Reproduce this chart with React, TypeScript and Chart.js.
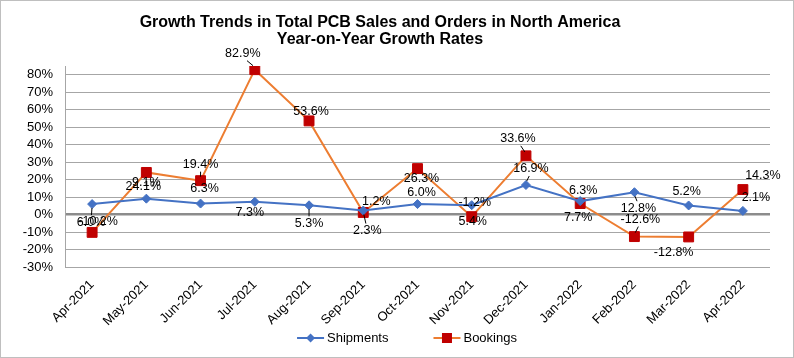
import React, { useEffect, useRef } from 'react';
import { Chart, registerables } from 'chart.js';

Chart.register(...registerables);

const categories = ['Apr-2021', 'May-2021', 'Jun-2021', 'Jul-2021', 'Aug-2021', 'Sep-2021', 'Oct-2021', 'Nov-2021', 'Dec-2021', 'Jan-2022', 'Feb-2022', 'Mar-2022', 'Apr-2022'];
const shipments = [6.0, 9.1, 6.3, 7.3, 5.3, 2.3, 6.0, 5.4, 16.9, 7.7, 12.8, 5.2, 2.1];
const bookings = [-10.2, 24.1, 19.4, 82.9, 53.6, 1.2, 26.3, -1.2, 33.6, 6.3, -12.6, -12.8, 14.3];
const yMin = -30;
const yMax = 80;
const yStep = 10;

const titleLines = ['Growth Trends in Total PCB Sales and Orders in North America', 'Year-on-Year Growth Rates'];

// label placement (pixel offsets of label centre from the point) — styling only
const shipLabelOffsets: [number, number][] = [[-1, 18], [0, -16], [4, -15], [-5, 11], [0, 18], [4, 20], [4, -12], [1, 16], [5, -16], [-2, 16], [4, 16], [-2, -14], [13, -13]];
const bookLabelOffsets: [number, number][] = [[6, -11], [-3, 14], [0, -16], [-12, -16], [2, -9], [13, -11], [4, 10], [3, -14], [-8, -17], [3, -13], [6, -17], [-15, 16], [20, -14]];
const shipLeaders = [true, false, false, false, true, true, false, false, true, false, true, false, false];
const bookLeaders = [false, false, true, true, false, false, false, false, true, false, true, false, false];

const BLUE = '#4472C4';
const ORANGE = '#ED7D31';
const RED = '#C00000';
const FONT = 'Arial, "Liberation Sans", sans-serif';

const fmt = (v: number) => v.toFixed(1) + '%';

const decorPlugin = {
  id: 'decor',
  afterDatasetsDraw(chart: any) {
    const ctx = chart.ctx as CanvasRenderingContext2D;
    ctx.save();
    ctx.font = `12.5px ${FONT}`;
    ctx.fillStyle = '#000';
    ctx.textAlign = 'center';
    ctx.textBaseline = 'middle';
    const sets: [number, number[], [number, number][], boolean[]][] = [
      [0, shipments, shipLabelOffsets, shipLeaders],
      [1, bookings, bookLabelOffsets, bookLeaders],
    ];
    for (const [di, vals, offs, leaders] of sets) {
      const meta = chart.getDatasetMeta(di);
      meta.data.forEach((pt: any, i: number) => {
        const [dx, dy] = offs[i];
        const lx = pt.x + dx;
        const ly = pt.y + dy;
        if (leaders[i]) {
          const sy = Math.sign(dy) || 1;
          ctx.strokeStyle = '#000';
          ctx.lineWidth = 1;
          ctx.beginPath();
          ctx.moveTo(pt.x + dx * 0.15, pt.y + sy * 4);
          ctx.lineTo(lx - dx * 0.35, ly - sy * 7);
          ctx.stroke();
        }
        ctx.fillText(fmt(vals[i]), lx, ly);
      });
    }
    ctx.restore();
  },
  afterDraw(chart: any) {
    const ctx = chart.ctx as CanvasRenderingContext2D;
    const W = chart.width;
    const H = chart.height;
    ctx.save();
    // outer border
    ctx.strokeStyle = '#bfbfbf';
    ctx.lineWidth = 1;
    ctx.strokeRect(0.5, 0.5, W - 1, H - 1);
    // title
    ctx.fillStyle = '#000';
    ctx.font = `bold 16px ${FONT}`;
    ctx.textAlign = 'center';
    ctx.textBaseline = 'alphabetic';
    ctx.fillText(titleLines[0], 380, 27);
    ctx.fillText(titleLines[1], 380, 44);
    // legend
    ctx.font = `13px ${FONT}`;
    ctx.textBaseline = 'middle';
    ctx.textAlign = 'left';
    const items = [
      { label: 'Shipments', line: BLUE, marker: 'diamond', fill: BLUE },
      { label: 'Bookings', line: ORANGE, marker: 'square', fill: RED },
    ];
    const symW = 27;
    const gapText = 3;
    const gapItems = 45;
    const widths = items.map((it) => symW + gapText + ctx.measureText(it.label).width);
    const total = widths.reduce((a, b) => a + b, 0) + gapItems;
    let x = 407 - total / 2;
    const y = 338;
    items.forEach((it, k) => {
      ctx.strokeStyle = it.line;
      ctx.lineWidth = 2;
      ctx.beginPath();
      ctx.moveTo(x, y);
      ctx.lineTo(x + symW, y);
      ctx.stroke();
      const cx = x + symW / 2;
      ctx.fillStyle = it.fill;
      if (it.marker === 'diamond') {
        ctx.beginPath();
        ctx.moveTo(cx, y - 4.5);
        ctx.lineTo(cx + 4.5, y);
        ctx.lineTo(cx, y + 4.5);
        ctx.lineTo(cx - 4.5, y);
        ctx.closePath();
        ctx.fill();
      } else {
        ctx.fillRect(cx - 5, y - 5, 10, 10);
      }
      ctx.fillStyle = '#000';
      ctx.fillText(it.label, x + symW + gapText, y + 0.5);
      x += widths[k] + gapItems;
    });
    ctx.restore();
  },
};

export default function App() {
  const ref = useRef<HTMLCanvasElement | null>(null);
  useEffect(() => {
    document.body.style.margin = '0';
    if (!ref.current) return;
    const chart = new Chart(ref.current, {
      type: 'line',
      data: {
        labels: categories,
        datasets: [
          {
            label: 'Shipments',
            data: shipments,
            borderColor: BLUE,
            backgroundColor: BLUE,
            borderWidth: 2,
            pointStyle: 'rectRot',
            pointRadius: 4.5,
            pointBackgroundColor: BLUE,
            pointBorderColor: BLUE,
            pointBorderWidth: 1,
            tension: 0,
          },
          {
            label: 'Bookings',
            data: bookings,
            borderColor: ORANGE,
            backgroundColor: RED,
            borderWidth: 2,
            pointStyle: 'rect',
            pointRadius: 7,
            pointBackgroundColor: RED,
            pointBorderColor: RED,
            pointBorderWidth: 1,
            tension: 0,
          },
        ],
      },
      options: {
        responsive: false,
        animation: false,
        devicePixelRatio: 1,
        layout: { padding: { top: 66, right: 24, left: 0, bottom: 0 } },
        plugins: {
          legend: { display: false },
          title: { display: false },
          tooltip: { enabled: false },
        },
        scales: {
          x: {
            offset: true,
            grid: { display: false, drawTicks: false },
            border: { display: false },
            ticks: {
              autoSkip: false,
              maxRotation: 45,
              minRotation: 45,
              padding: 10,
              color: '#000',
              font: { family: FONT, size: 13 },
            },
            afterFit(scale: any) {
              scale.height = 91;
            },
          },
          y: {
            min: yMin,
            max: yMax + 5,
            ticks: {
              autoSkip: false,
              stepSize: yStep,
              padding: 12,
              color: '#000',
              font: { family: FONT, size: 13 },
              callback: (v: any) => v + '%',
            },
            grid: {
              drawTicks: false,
              color: (c: any) => (c.tick && c.tick.value === 0 ? '#8c8c8c' : '#a6a6a6'),
              lineWidth: (c: any) => (c.tick && c.tick.value === 0 ? 2.5 : 1),
            },
            border: { display: true, color: '#a6a6a6', width: 1 },
            afterBuildTicks(scale: any) {
              const t: { value: number }[] = [];
              for (let v = yMin; v <= yMax; v += yStep) t.push({ value: v });
              scale.ticks = t;
            },
            afterFit(scale: any) {
              scale.width = 65;
            },
          },
        },
      },
      plugins: [decorPlugin],
    });
    return () => chart.destroy();
  }, []);
  return (
    <div style={{ width: 794, height: 358 }}>
      <canvas ref={ref} width={794} height={358} style={{ display: 'block' }} />
    </div>
  );
}
